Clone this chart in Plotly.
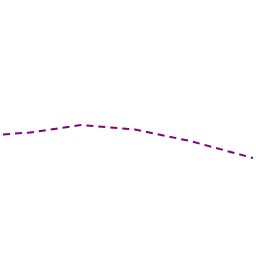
import plotly.graph_objects as go

x_vals = [3, 30, 81, 135, 190, 253]
y_vals = [121.5, 123.5, 131, 126.5, 115, 98]

fig = go.Figure()
fig.add_trace(go.Scatter(x=x_vals, y=y_vals, mode="lines",
                         line=dict(color="#800080", width=2, dash="7px,5px"),
                         showlegend=False))
fig.update_layout(width=256, height=256, margin=dict(l=0, r=0, t=0, b=0),
                  paper_bgcolor="white", plot_bgcolor="white")
fig.update_xaxes(visible=False, range=[0, 256])
fig.update_yaxes(visible=False, range=[0, 256])
fig.write_html("out.html")
